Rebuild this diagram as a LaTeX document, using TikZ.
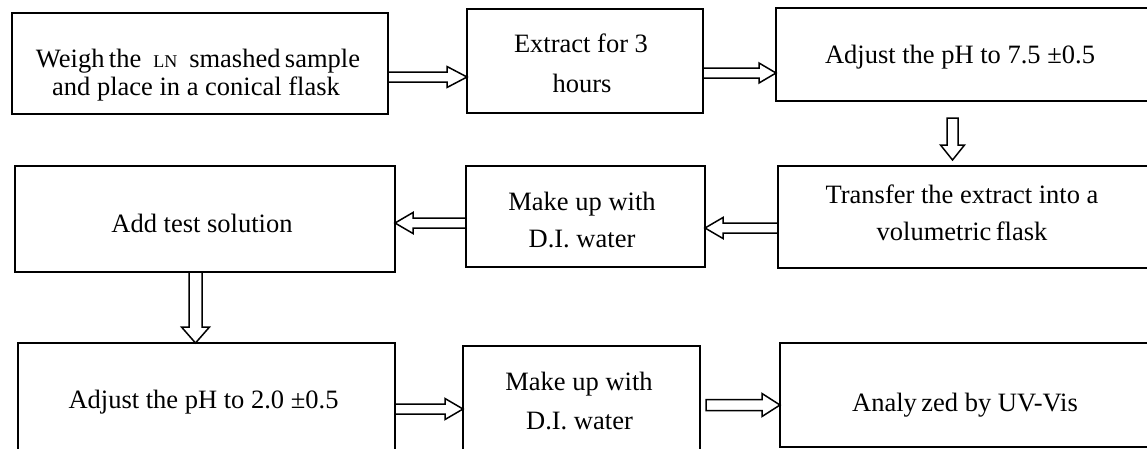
\documentclass[tikz,border=0pt]{standalone}
\usepackage{fontspec}
\setmainfont{Liberation Serif}
\usetikzlibrary{calc}
\tikzset{
  box/.style={draw, line width=1.8pt, inner sep=0pt, outer sep=0pt},
  lbl/.style={anchor=base, inner sep=0pt, font=\fontsize{26.5}{30}\selectfont},
  blk/.style={draw, line width=1.5pt, line join=miter},
}
\newcommand\hblk[5]{\draw[blk] ($(#1)+(0,#3)$) -- ($(#2)+(#5,#3)$) -- ($(#2)+(#5,#4)$) -- (#2) -- ($(#2)+(#5,-#4)$) -- ($(#2)+(#5,-#3)$) -- ($(#1)+(0,-#3)$) -- cycle;}
\newcommand\vblk[5]{\draw[blk] ($(#1)+(#3,0)$) -- ($(#2)+(#3,#5)$) -- ($(#2)+(#4,#5)$) -- (#2) -- ($(#2)+(-#4,#5)$) -- ($(#2)+(-#3,#5)$) -- ($(#1)+(-#3,0)$) -- cycle;}
\begin{document}
\begin{tikzpicture}[x=1pt,y=-1pt]
\useasboundingbox (0,0) rectangle (1147,448);
% boxes
\node[box, minimum width=376pt, minimum height=101pt] (b1) at (200,63.5) {};
\node[box, minimum width=236pt, minimum height=104pt] (b2) at (585,61) {};
\node[box, minimum width=376pt, minimum height=93pt]  (b3) at (964,54.5) {};
\node[box, minimum width=374pt, minimum height=102pt] (b4) at (965,217) {};
\node[box, minimum width=239pt, minimum height=101pt] (b5) at (585.5,216.5) {};
\node[box, minimum width=380pt, minimum height=106pt] (b6) at (205,219) {};
\node[box, minimum width=377pt, minimum height=112pt] (b7) at (206.5,399) {};
\node[box, minimum width=237pt, minimum height=109pt] (b8) at (581.5,400.5) {};
\node[box, minimum width=372pt, minimum height=104pt] (b9) at (966,395) {};
% texts
\node[lbl] (t1a) at (198,67) {Weigh\,the\hspace{12pt}{\fontsize{18}{20}\selectfont LN}\hspace{12pt}smashed\,sample};
\node[lbl] (t1b) at (196,95) {and place in a conical flask};
\node[lbl] (t2a) at (581,52) {Extract for 3};
\node[lbl] (t2b) at (582,92) {hours};
\node[lbl] (t3) at (960,63) {Adjust the pH to 7.5 ±0.5};
\node[lbl] (t4a) at (962,203) {Transfer the extract into a};
\node[lbl] (t4b) at (962,240) {volumetric\,flask};
\node[lbl] (t5a) at (582,210) {Make up with};
\node[lbl] (t5b) at (582,247) {D.I. water};
\node[lbl] (t6) at (202,232) {Add test solution};
\node[lbl] (t7) at (203.5,408) {Adjust the pH to 2.0 ±0.5};
\node[lbl] (t8a) at (579,390) {Make up with};
\node[lbl] (t8b) at (579.5,429) {D.I. water};
\node[lbl] (t9) at (965,411) {Analy\,zed by UV-Vis};
% arrows
\coordinate (a1s) at (b1.east |- 0,77);
\coordinate (a1e) at (b2.west |- 0,77);
\hblk{a1s}{a1e}{5}{10.5}{-20}
\coordinate (a2s) at (b2.east |- 0,73);
\coordinate (a2e) at (b3.west |- 0,73);
\hblk{a2s}{a2e}{5}{10}{-17}
\coordinate (a3s) at ($(b3.south)+(-11.5,17)$);
\coordinate (a3e) at ($(b4.north)+(-12.5,-6)$);
\vblk{a3s}{a3e}{5.5}{12}{-15}
\coordinate (a4s) at (b4.west |- 0,228);
\coordinate (a4e) at (b5.east |- 0,228);
\hblk{a4s}{a4e}{5}{10.5}{18}
\coordinate (a5s) at (b5.west |- 0,223);
\coordinate (a5e) at (b6.east |- 0,223);
\hblk{a5s}{a5e}{5}{10.5}{18}
\coordinate (a6s) at (b6.south -| 195.5,0);
\coordinate (a6e) at (b7.north -| 195.5,0);
\vblk{a6s}{a6e}{6.5}{14}{-16}
\coordinate (a7s) at (b7.east |- 0,409);
\coordinate (a7e) at (b8.west |- 0,409);
\hblk{a7s}{a7e}{5}{10.5}{-18}
\coordinate (a8s) at ($(b8.east |- 0,405)+(6,0)$);
\coordinate (a8e) at (b9.west |- 0,405);
\hblk{a8s}{a8e}{5.5}{11.5}{-18}
\end{tikzpicture}
\end{document}
